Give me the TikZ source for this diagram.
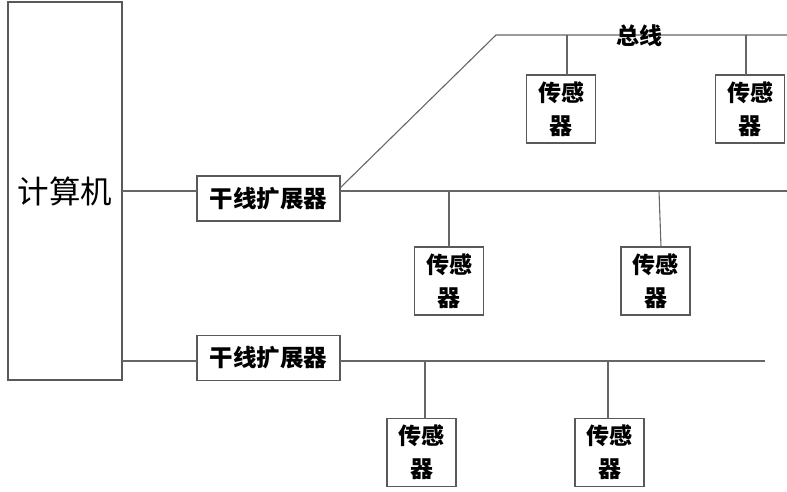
\documentclass[tikz,border=0pt]{standalone}
\usepackage{fontspec}
\newfontfamily\cjk{Noto Sans CJK SC}
\begin{document}
\begin{tikzpicture}[x=1pt,y=-1pt,
  line/.style={draw=black!60,line width=1.1pt},
  box/.style={draw=black!65,line width=1.1pt,fill=white,inner sep=0pt,outer sep=0pt,align=center},
  sensor/.style={box,minimum width=69pt,minimum height=68pt,font=\cjk\bfseries\fontsize{23}{33}\selectfont},
  expander/.style={box,minimum width=143pt,minimum height=45pt,font=\cjk\bfseries\fontsize{23.5}{26}\selectfont}]
\useasboundingbox (0,0) rectangle (787,492);
% nodes
\node[box,minimum width=114pt,minimum height=378pt,font=\cjk\fontsize{31.5}{34}\selectfont] (comp) at (65,191) {计算机};
\node[expander] (exp1) at (268.5,198.5) {干线扩展器};
\node[expander] (exp2) at (268.5,358) {干线扩展器};
\node[sensor] (s1) at (561,109) {传感\\器};
\node[sensor] (s2) at (750,109) {传感\\器};
\node[sensor] (s3) at (449,281) {传感\\器};
\node[sensor] (s4) at (655.5,281) {传感\\器};
\node[sensor] (s5) at (421.5,452.5) {传感\\器};
\node[sensor] (s6) at (609.5,452.5) {传感\\器};
% coordinates
\coordinate (b1) at (0,191);
\coordinate (b2) at (0,361);
\coordinate (d0) at (340,188);
\coordinate (d1) at (496,35);
\coordinate (t1) at (567,35);
\coordinate (t2) at (746,35);
\coordinate (tend) at (787,35);
\coordinate (m1) at (449,191);
\coordinate (m2) at (659,191);
\coordinate (s4top) at (661,247);
\coordinate (mend) at (787,191);
\coordinate (l1) at (425,361);
\coordinate (l2) at (608,361);
\coordinate (lend) at (765,361);
% connectors
\draw[line] (comp.east |- b1) -- (exp1.west |- b1);
\draw[line] (comp.east |- b2) -- (exp2.west |- b2);
\draw[line] (exp1.east |- b1) -- (mend);
\draw[line] (exp2.east |- b2) -- (lend);
\draw[line] (d0) -- (d1) -- (tend);
\draw[line] (t1) -- (s1.north -| t1);
\draw[line] (t2) -- (s2.north -| t2);
\draw[line] (m1) -- (s3.north);
\draw[line] (m2) -- (s4top);
\draw[line] (l1) -- (s5.north -| l1);
\draw[line] (l2) -- (s6.north -| l2);
% bus label
\node[font=\cjk\bfseries\fontsize{23}{26}\selectfont,inner sep=0pt] (bus) at (639,36) {总线};
\end{tikzpicture}
\end{document}
